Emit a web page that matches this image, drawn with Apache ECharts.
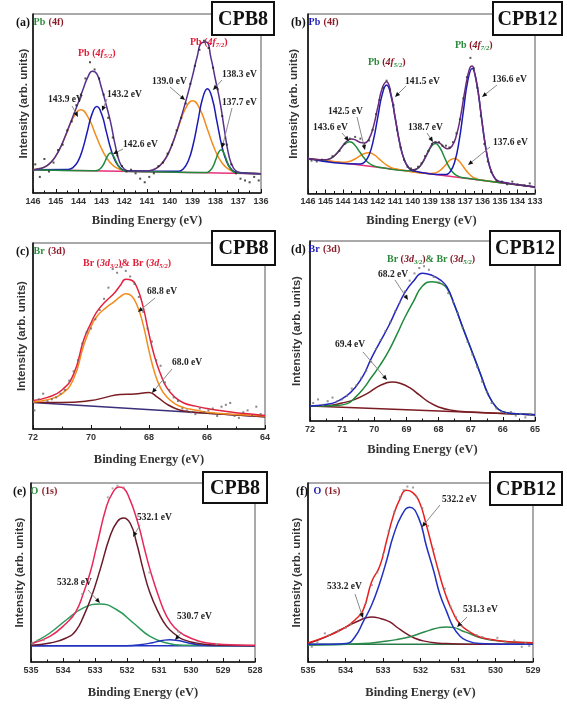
<!DOCTYPE html>
<html><head><meta charset="utf-8">
<script src="https://cdn.jsdelivr.net/npm/echarts@6/dist/echarts.min.js"></script>
<style>html,body{margin:0;padding:0;background:#fff}#c{width:567px;height:706px}</style>
</head><body><div id="c"></div>
<script>
// ---------- DATA (x = binding energy in eV, y = intensity in arb. units 0..100) ----------
// (a) CPB8 Pb 4f
const aBase = [[146,13.0],[136,10.8]];
const aOrange = [[146,13.0],[145.85,13.4],[145.525,14.3],[145.2,17.3],[144.875,23.4],[144.55,32.7],[144.225,42.2],[143.9,46.5],[143.575,42.1],[143.25,32.4],[142.925,23.0],[142.6,16.8],[142.275,13.6],[141.95,12.5],[140.95,12.3],[140.625,13.6],[140.3,17.2],[139.975,24.7],[139.65,35.9],[139.325,46.8],[139.0,51.5],[138.675,46.7],[138.35,35.6],[138.025,24.3],[137.7,16.6],[137.375,12.9],[137.05,11.4],[136,10.8]];
const aBlue = [[146,13.0],[144.46,13.1],[144.25,14.2],[144.04,17.4],[143.83,24.2],[143.62,34.2],[143.41,44.2],[143.2,48.3],[142.99,44.1],[142.78,34.0],[142.57,23.9],[142.36,17.1],[142.15,13.7],[141.94,12.5],[139.61,12.1],[139.4,13.6],[139.19,17.9],[138.98,26.8],[138.77,39.9],[138.56,52.9],[138.35,58.3],[138.14,52.8],[137.93,39.7],[137.72,26.5],[137.51,17.6],[137.3,13.2],[137.09,11.6],[136,10.8]];
const aGreen = [[146,13.0],[143.26,12.4],[143.15,12.7],[143.04,13.7],[142.93,15.5],[142.82,18.3],[142.71,21.1],[142.6,22.3],[142.49,21.0],[142.38,18.3],[142.27,15.4],[142.16,13.6],[142.05,12.6],[141.94,12.2],[138.41,11.4],[138.3,11.9],[138.19,13.1],[138.08,15.5],[137.97,19.1],[137.86,22.7],[137.75,24.2],[137.64,22.6],[137.53,19.0],[137.42,15.3],[137.31,13.0],[137.2,11.7],[137.09,11.2],[136,10.8]];
const aEnv = [[146,13.0],[145.8,13.4],[145.6,14.0],[145.4,15.2],[145.2,17.3],[145.0,20.7],[144.8,25.4],[144.6,31.3],[144.4,37.8],[144.2,44.4],[144.0,51.0],[143.8,58.1],[143.6,64.6],[143.4,68.0],[143.2,66.5],[143.0,58.9],[142.8,49.7],[142.6,39.7],[142.4,27.0],[142.2,17.2],[142.0,13.4],[141.8,12.3],[141.0,12.3],[140.8,12.7],[140.6,13.7],[140.4,15.8],[140.2,19.0],[140.0,23.9],[139.8,30.5],[139.6,38.3],[139.4,46.7],[139.2,55.8],[139.0,65.6],[138.8,76.1],[138.6,83.9],[138.4,84.3],[138.2,75.8],[138.0,63.4],[137.8,51.1],[137.6,34.9],[137.4,20.4],[137.2,13.7],[137.0,11.7],[136.8,11.0],[136,10.8]];
const aDots = [[145.9,16],[145.7,9],[145.5,19],[145.3,12],[145.1,17],[144.9,24],[144.7,27],[144.5,35],[144.3,40],[144.1,49],[143.9,55],[143.7,64],[143.5,73],[143.3,69],[143.1,64],[142.9,55],[142.7,42],[142.5,31],[142.3,21],[142.1,15],[141.9,12],[141.7,13],[141.5,11],[141.3,8],[141.1,6],[140.9,9],[140.7,11],[140.5,15],[140.3,17],[140.1,22],[139.9,27],[139.7,35],[139.5,42],[139.3,50],[139.1,61],[138.9,71],[138.7,80],[138.5,85],[138.3,81],[138.1,70],[137.9,58],[137.7,43],[137.5,27],[137.3,16],[137.1,11],[136.9,8],[136.7,7],[136.5,6],[136.3,9],[136.1,7]];

// (b) CPB12 Pb 4f
const bBase = [[146,17.7],[133,1.5]];
const bBlue = [[146,17.7],[143.0,14.5],[142.75,15.7],[142.5,19.7],[142.25,28.4],[142.0,41.4],[141.75,54.2],[141.5,59.5],[141.25,53.6],[141.0,40.2],[140.75,26.6],[140.5,17.3],[140.25,12.6],[140.0,10.7],[138.1,8.6],[137.85,10.3],[137.6,15.7],[137.35,27.4],[137.1,44.8],[136.85,61.9],[136.6,69.0],[136.35,61.3],[136.1,43.6],[135.85,25.6],[135.6,13.2],[135.35,7.2],[135.1,4.8],[133,1.5]];
const bGreen = [[146,17.7],[145.25,16.9],[144.975,16.9],[144.7,17.8],[144.425,19.8],[144.15,23.0],[143.875,26.1],[143.6,27.2],[143.325,25.4],[143.05,21.6],[142.775,17.8],[142.5,15.0],[142.225,13.5],[141.95,12.75],[140.2,10.65],[139.95,10.9],[139.7,12.2],[139.45,15.2],[139.2,19.9],[138.95,24.4],[138.7,26.2],[138.45,23.8],[138.2,18.7],[137.95,13.4],[137.7,9.75],[137.45,7.85],[137.2,6.9],[133,1.5]];
const bOrange = [[146,17.7],[144.3,15.7],[144.0,15.5],[143.7,15.8],[143.4,16.95],[143.1,18.7],[142.8,20.4],[142.5,20.9],[142.2,19.7],[141.9,17.2],[141.6,14.7],[141.3,12.8],[141.0,11.8],[140.7,11.2],[139.1,9.2],[138.85,9.3],[138.6,9.9],[138.35,11.6],[138.1,14.25],[137.85,16.84],[137.6,17.7],[137.35,16.2],[137.1,13.0],[136.85,9.7],[136.6,7.4],[136.35,6.2],[136.1,5.46],[133,1.5]];
const bEnv = [[146,17.7],[145.5,17.1],[145.0,16.95],[144.75,17.5],[144.5,19.1],[144.25,21.8],[144.0,25.1],[143.75,27.8],[143.5,28.8],[143.25,28.1],[143.0,26.8],[142.75,26.55],[142.5,29.0],[142.25,36.0],[142.0,47.0],[141.75,57.7],[141.5,61.4],[141.25,54.5],[141.0,40.5],[140.75,26.7],[140.5,17.25],[140.25,12.7],[140.0,11.3],[139.75,11.9],[139.5,14.5],[139.25,18.9],[139.0,23.9],[138.75,26.9],[138.5,26.65],[138.25,24.5],[138.0,23.2],[137.75,24.8],[137.5,30.9],[137.25,42.35],[137.0,57.25],[136.75,68.8],[136.6,70.4],[136.5,68.4],[136.25,55.1],[136.0,36.0],[135.75,19.8],[135.5,10.2],[135.25,5.9],[135.0,4.4],[134.5,3.4],[133,1.5]];
const bDots = [[145.8,16.5],[145.5,16.0],[145.2,17.0],[144.6,19],[144.2,22],[143.9,26],[143.6,29],[143.3,30],[143.0,29],[142.8,26],[142.5,28],[142.3,34],[142.1,43],[141.9,51],[141.7,58],[141.5,62],[141.3,57],[141.1,48],[140.9,34],[140.7,24],[140.5,17],[140.3,13],[140.1,12],[139.9,11],[139.7,13],[139.5,15],[139.3,19],[139.1,22],[138.9,26],[138.7,27],[138.5,27],[138.3,25],[138.1,25],[137.9,24],[137.7,27],[137.5,32],[137.3,40],[137.1,52],[136.9,64],[136.7,75],[136.5,69],[136.3,58],[136.1,42],[135.9,26],[135.7,16],[135.5,10],[135.2,5],[134.9,4.5],[134.6,3],[134.3,4.5],[134.0,3],[133.6,2.5],[133.3,3.5]];

// (c) CPB8 Br 3d
const cBase = [[72,14.2],[64,6.6]];
const cBrown = [[72,14.4],[71.0,14.2],[70.0,15.3],[69.5,17.0],[69.0,18.6],[68.5,18.8],[68.0,19.6],[67.7,17.0],[67.4,13.5],[67.0,10.5],[66.6,9.3],[66.0,8.5],[64,6.6]];
const cOrange = [[72,14.5],[71.5,15.8],[71.0,19],[70.6,27],[70.25,45],[70.0,55],[69.8,60.5],[69.5,65],[69.2,68.5],[69.0,71],[68.8,72.7],[68.6,71.5],[68.4,66],[68.2,56],[68.0,42],[67.8,30],[67.6,22],[67.4,17.5],[67.1,13.5],[66.8,11.5],[66.4,10.2],[66.0,9.0],[65.0,7.8],[64,7.0]];
const cRed = [[72,15.3],[71.5,17.0],[71.0,21],[70.6,29.5],[70.25,48],[70.0,57],[69.8,63],[69.5,68.5],[69.2,73],[69.0,77],[68.8,80.5],[68.6,80],[68.4,75.5],[68.2,65.5],[68.0,51],[67.8,38.5],[67.6,29.5],[67.4,22.5],[67.1,17],[66.8,14],[66.4,12.3],[66.0,11],[65.5,9.8],[65.0,8.8],[64.5,8.0],[64,7.2]];
const cDots = [[71.95,10],[71.8,16],[71.65,19],[71.5,15],[71.35,16],[71.2,17],[71.05,19],[70.9,21],[70.75,26],[70.6,31],[70.45,37],[70.3,46],[70.15,52],[70.0,54],[69.85,59],[69.7,64],[69.55,70],[69.4,76],[69.25,86],[69.1,84],[68.95,87],[68.8,85],[68.65,82],[68.5,78],[68.35,71],[68.2,63],[68.05,54],[67.9,47],[67.75,37],[67.6,34],[67.45,25],[67.3,21],[67.15,17],[67.0,15],[66.85,11],[66.7,10],[66.55,9],[66.4,8],[66.25,11],[66.1,9],[65.95,10],[65.8,11],[65.65,7],[65.5,12],[65.35,13],[65.2,14],[65.05,7],[64.9,6],[64.75,9],[64.6,10],[64.45,7],[64.3,12],[64.15,8]];

// (d) CPB12 Br 3d
const dBase = [[72,8.3],[65,3.5]];
const dBrown = [[72,8.3],[71.5,8.5],[71.0,10],[70.6,12],[70.2,15.5],[69.9,19],[69.65,21],[69.45,21.7],[69.2,21],[68.9,18.5],[68.6,14.5],[68.3,10.5],[68.0,7.8],[67.6,6.0],[67.0,5],[66,4.2],[65,3.5]];
const dGreen = [[72,8.3],[71.2,8.6],[70.86,9.5],[70.6,13],[70.34,18],[70.1,24],[69.82,31],[69.55,39],[69.3,48],[69.05,57.5],[68.78,66.5],[68.5,75],[68.2,77.4],[67.95,76.5],[67.74,73.7],[67.5,64],[67.22,50.5],[66.95,38],[66.7,26.3],[66.45,14.5],[66.2,7.5],[66.0,5.2],[65.7,4.2],[65,3.5]];
const dEnv = [[72,8.3],[71.5,9.2],[71.2,10.5],[70.86,14],[70.6,18.5],[70.34,25.3],[70.1,34.5],[69.82,44],[69.55,52.9],[69.3,62.4],[69.05,71.3],[68.78,77.7],[68.5,82.1],[68.2,80.9],[67.95,78.4],[67.74,74.5],[67.5,64.3],[67.22,50.7],[66.95,38.1],[66.7,26.3],[66.45,14.5],[66.2,7.5],[66.0,5.2],[65.7,4.2],[65,3.5]];
const dDots = [[71.9,10],[71.75,12],[71.6,9],[71.45,11],[71.3,13],[71.15,11],[71.0,12],[70.85,14],[70.7,18],[70.55,20],[70.4,24],[70.25,28],[70.1,33],[69.95,40],[69.8,45],[69.65,50],[69.5,55],[69.35,61],[69.2,66],[69.05,72],[68.9,78],[68.75,82],[68.6,85],[68.45,86],[68.3,84],[68.15,80],[68.0,77],[67.85,76],[67.7,71],[67.55,66],[67.4,60],[67.25,52],[67.1,44],[66.95,37],[66.8,30],[66.65,22],[66.5,16],[66.35,10],[66.2,7],[66.05,5],[65.9,4],[65.75,5],[65.6,3],[65.45,4],[65.3,2],[65.15,4]];

// (e) CPB8 O 1s
const eBase = [[535,9.1],[528,9.1]];
const eBrown = [[535,9.3],[534.4,10.6],[533.9,13.4],[533.6,17.5],[533.36,25.5],[533.1,37],[532.84,51.6],[532.53,70.2],[532.3,78.5],[532.11,80.4],[531.9,77.5],[531.7,66.5],[531.5,52],[531.28,38.5],[531.0,27],[530.76,19.9],[530.5,15.5],[530.24,12.5],[529.72,10.2],[529.0,9.3],[528,9.1]];
const eGreen = [[535,10.2],[534.93,10.6],[534.41,16.2],[533.89,23.6],[533.36,30.2],[532.84,32.4],[532.32,29.2],[531.8,21.8],[531.28,14.3],[530.76,10.6],[530.24,9.3],[529,9.1],[528,9.1]];
const eBlue = [[535,9.1],[532,9.1],[531.6,9.6],[531.2,10.8],[530.9,12.0],[530.66,12.5],[530.4,12.0],[530.1,10.8],[529.8,9.7],[529.4,9.2],[528,9.1]];
const eRed = [[535,10.2],[534.41,14.3],[533.89,21.8],[533.6,28],[533.36,38.5],[533.15,50],[532.95,64.6],[532.64,87],[532.45,94.5],[532.25,97.8],[532.1,97],[531.91,90.7],[531.75,83],[531.6,73.9],[531.45,63],[531.28,51.6],[531.0,36],[530.76,25.5],[530.5,19],[530.24,15.3],[529.72,11.5],[529.2,10.1],[528.6,9.5],[528,9.3]];
const eDots = [[534.95,10.8],[534.8,12],[534.6,12.2],[533.4,38],[532.6,92],[532.45,97],[532.3,98.5],[532.1,97.5],[531.3,50],[530.4,17],[529.8,11],[529.2,10]];

// (f) CPB12 O 1s
const fBase = [[535,9.9],[529,9.9]];
const fBlue = [[535,9.9],[534.4,9.9],[533.98,10.3],[533.75,14],[533.53,22.4],[533.3,32],[533.09,43.9],[532.9,57],[532.73,70.1],[532.5,82],[532.29,86.5],[532.05,80.5],[531.84,64.5],[531.65,51],[531.49,38.3],[531.3,28],[531.13,19.6],[530.95,14.5],[530.78,12.1],[530.42,10.3],[529.8,9.9],[529,9.9]];
const fBrown = [[535,10.3],[534.7,12.5],[534.42,15],[533.98,19.6],[533.6,23.5],[533.31,25.2],[533.05,24.2],[532.82,22.4],[532.6,19],[532.38,15.9],[532.15,13.3],[531.93,11.8],[531.5,10.5],[531.31,10.3],[530.5,9.9],[529,9.9]];
const fGreen = [[535,9.3],[533.53,10.3],[533.0,11.5],[532.64,12.5],[532.3,14],[532.02,15.9],[531.75,17.8],[531.5,19.2],[531.31,19.6],[531.1,19.2],[530.9,17.5],[530.69,15.9],[530.4,13.5],[530.07,12.1],[529.6,11.2],[529,10.7]];
const fRed = [[535,10.7],[534.42,15],[533.98,19.6],[533.75,23.5],[533.53,29],[533.3,45],[533.09,53.3],[532.9,68],[532.73,81.3],[532.55,91],[532.38,95.9],[532.2,94.5],[532.02,88.8],[531.85,77],[531.67,62.6],[531.49,48.5],[531.31,36.4],[531.13,27.5],[530.96,21.5],[530.7,17],[530.42,14],[530.0,12.2],[529.53,11.2],[529,10.7]];
const fDots = [[534.9,8.5],[534.75,11],[534.55,16],[534.45,15],[534.2,17.5],[534.0,19],[533.85,21],[533.6,26],[533.45,33],[533.3,43],[533.15,50],[533.0,60],[532.85,73],[532.7,84],[532.55,92],[532.45,96],[532.35,98],[532.2,97.5],[532.1,92],[531.95,86],[531.8,76],[531.65,63],[531.5,50],[531.35,41],[531.2,31],[531.05,25],[530.9,20],[530.7,17],[530.5,15],[530.35,14],[530.15,12.5],[529.95,13.5],[529.75,11.5],[529.5,12],[529.3,8.5],[529.2,10.5],[529.1,9]];

// axis ranges
const xRanges = [[136,146,1],[133,146,1],[64,72,2],[65,72,1],[528,535,1],[529,535,1]];
const sampleNames = ['CPB8','CPB12','CPB8','CPB12','CPB8','CPB12'];
const xTitle = 'Binding Energy (eV)';
const yTitle = 'Intensity (arb. units)';

// ---------- CHART ----------
const chart = echarts.init(document.getElementById('c'), null, {renderer:'canvas'});
const grids = [
  {left:33, top:14, width:228, height:179},
  {left:308, top:14, width:227, height:179.5},
  {left:33, top:243, width:232, height:186},
  {left:310, top:241, width:225, height:180},
  {left:31, top:483, width:224, height:179},
  {left:308, top:483, width:225, height:179}
].map(g => Object.assign({show:true, borderColor:'#555', borderWidth:1, containLabel:false, outerBoundsMode:'none'}, g));

const yMins = [0,-2.25,0,0,0,0];
const yGaps = [3,8,5,7,5,5];
const xGaps = [21,21,24,22,24,24];
const xAxes = xRanges.map((r,i)=>({
  gridIndex:i, type:'value', inverse:true, min:r[0], max:r[1], interval:r[2],
  axisLine:{show:true, onZero:false, lineStyle:{color:'#111', width:1.6}},
  axisTick:{show:true, inside:true, length:4, lineStyle:{color:'#111', width:1}},
  minorTick:{show:true, splitNumber:2, length:2.5, lineStyle:{color:'#111', width:1}},
  splitLine:{show:false},
  axisLabel:{color:'#333', fontSize:9, fontWeight:'bold', fontFamily:'Liberation Sans', margin:4},
  name:xTitle, nameLocation:'middle', nameGap:xGaps[i],
  nameTextStyle:{color:'#333', fontSize:12.5, fontWeight:'bold', fontFamily:'Liberation Serif'}
}));
const yAxes = xRanges.map((r,i)=>({
  gridIndex:i, type:'value', min:yMins[i], max:100,
  axisLine:{show:true, onZero:false, lineStyle:{color:'#111', width:1.6}},
  axisTick:{show:false}, axisLabel:{show:false}, splitLine:{show:false},
  name:yTitle, nameLocation:'middle', nameGap:yGaps[i],
  nameTextStyle:{color:'#333', fontSize:11.5, fontWeight:'bold', fontFamily:'Liberation Sans'}
}));

function ln(i, data, color, w){
  return {type:'line', xAxisIndex:i, yAxisIndex:i, data, showSymbol:false, smooth:0.5,
    lineStyle:{color, width:w||1.5}, itemStyle:{color}, silent:true, z:2};
}
function dots(i, data, color){
  return {type:'scatter', xAxisIndex:i, yAxisIndex:i, data, symbol:'rect', symbolSize:2, itemStyle:{color:color||'#333'}, silent:true, z:3};
}
const ORANGE='#f28c1c', BLUE='#1c1ab4', GREEN='#1f8a3b', PURPLE='#55308c', PINK='#e8307a', RED='#e3203f', BROWN='#7a1c22', NAVY='#3b2e7a';
const series = [
  ln(0,aBase,PINK), ln(0,aOrange,ORANGE), ln(0,aBlue,BLUE), ln(0,aGreen,GREEN), ln(0,aEnv,PURPLE), dots(0,aDots,'#222'),
  ln(1,bBase,PINK), ln(1,bOrange,ORANGE), ln(1,bGreen,GREEN), ln(1,bBlue,BLUE), ln(1,bEnv,'#6a2c7c'), dots(1,bDots,'#333'),
  ln(2,cBase,NAVY), ln(2,cBrown,BROWN), ln(2,cOrange,ORANGE), ln(2,cRed,RED), dots(2,cDots,'#666'),
  ln(3,dBase,BROWN), ln(3,dBrown,BROWN), ln(3,dGreen,GREEN), ln(3,dEnv,'#2424c0'), dots(3,dDots,'#777'),
  ln(4,eBase,'#2233c0'), ln(4,eGreen,'#2a9a5a'), ln(4,eBlue,'#2233c0'), ln(4,eBrown,'#6a1a2a'), ln(4,eRed,'#e8285a'), dots(4,eDots,'#999'),
  ln(5,fBase,'#2a7a4a'), ln(5,fBrown,'#7a1a2a'), ln(5,fGreen,'#2a8a4a'), ln(5,fBlue,'#2030c0'), ln(5,fRed,'#e82020'), dots(5,fDots,'#888')
];

// ---------- ANNOTATIONS ----------
const g = [];
const SERIF = '"Liberation Serif"';
function txt(x,y,t,extra){ g.push(Object.assign({type:'text', x, y, z:10, style:Object.assign({text:t, font:'bold 9.5px '+SERIF, fill:'#222', textVerticalAlign:'middle'}, extra||{})})); }
function arrow(x1,y1,x2,y2){
  const a=Math.atan2(y2-y1,x2-x1), L=5, W=2.2, c=Math.cos(a), s=Math.sin(a);
  g.push({type:'line', z:10, shape:{x1,y1,x2:x2-c*3,y2:y2-s*3}, style:{stroke:'#8a8a8a', lineWidth:1}});
  g.push({type:'polygon', z:11, shape:{points:[[x2,y2],[x2-L*c+W*s,y2-L*s-W*c],[x2-L*c-W*s,y2-L*s+W*c]]}, style:{fill:'#111'}});
}
function box(x,y,w,h,t){
  g.push({type:'rect', z:20, shape:{x,y,width:w,height:h}, style:{fill:'#fff', stroke:'#111', lineWidth:2}});
  g.push({type:'text', z:21, x:x+w/2, y:y+h/2+1, style:{text:t, font:'bold 20px '+SERIF, fill:'#111', textAlign:'center', textVerticalAlign:'middle'}});
}
function rich(x,y,text,r){ g.push({type:'text', x, y, z:10, style:{text, rich:r, textVerticalAlign:'middle'}}); }
function rs(col){ return {fill:col, font:'bold 10px '+SERIF, lineHeight:14, verticalAlign:'middle'}; }
function ri(col){ return {fill:col, font:'italic bold 10px '+SERIF, lineHeight:14, verticalAlign:'middle'}; }
function rsub(col){ return {fill:col, font:'italic bold 6.5px '+SERIF, lineHeight:14, verticalAlign:'bottom', padding:[5,0,0,0]}; }

// boxes
box(212,2,62,33,sampleNames[0]); box(493,2,69,33,sampleNames[1]);
box(212,231,63,34,sampleNames[2]); box(490,231,70,34,sampleNames[3]);
box(203,472,64,31,sampleNames[4]); box(490,472,72,33,sampleNames[5]);

// panel letters + element headers
const MAROON='#8a1c2a', HG='#2a8a3a', HB='#1c1ab4';
const hdr = (x,y,letter,el,orb,col) => {
  txt(x,y,letter,{font:'bold 12px '+SERIF, fill:'#111'});
  rich(x+(letter.length*4.2)+5,y-1,'{e|'+el+'} {o|'+orb+'}',{e:rs(col), o:rs(MAROON)});
};
hdr(16,23,'(a)','Pb','(4f)',HG);
hdr(291,23,'(b)','Pb','(4f)',HB);
hdr(16,252,'(c)','Br','(3d)',HG);
hdr(291,250,'(d)','Br','(3d)',HB);
hdr(13,492,'(e)','O','(1s)',HG);
hdr(296,492,'(f)','O','(1s)',HB);

// peak group labels
const R='#e0203a';
rich(78,53,'{a|Pb (}{i|4f}{s|5/2}{a|)}',{a:rs(R),i:ri(R),s:rsub(R)});
rich(190,42,'{a|Pb (}{i|4f}{s|7/2}{a|)}',{a:rs(R),i:ri(R),s:rsub(R)});
rich(368,62,'{a|Pb }{m|(}{i|4f}{s|5/2}{m|)}',{a:rs(HG),m:rs(MAROON),i:ri(MAROON),s:rsub(HG)});
rich(455,45,'{a|Pb }{m|(}{i|4f}{s|7/2}{m|)}',{a:rs(HG),m:rs(MAROON),i:ri(MAROON),s:rsub(HG)});
rich(83,263,'{a|Br (}{i|3d}{s|3/2}{a|)& Br (}{i|3d}{s|5/2}{a|)}',{a:rs(R),i:ri(R),s:rsub(R)});
rich(387,259,'{a|Br }{m|(}{i|3d}{s|3/2}{m|)}{a|& Br }{m|(}{i|3d}{s|5/2}{m|)}',{a:rs(HG),m:rs(MAROON),i:ri(MAROON),s:rsub(HG)});

// peak position labels and arrows
txt(48,100,'143.9 eV'); arrow(72,106,78,117);
txt(107,95,'143.2 eV'); arrow(107,99,102,111);
txt(123,145,'142.6 eV'); arrow(123,149,113,154);
txt(152,82,'139.0 eV'); arrow(170,87,185,100);
txt(222,75,'138.3 eV'); arrow(222,80,213,90);
txt(222,103,'137.7 eV'); arrow(232,108,222,148);

txt(405,82,'141.5 eV'); arrow(406,86,395,97);
txt(492,80,'136.6 eV'); arrow(497,85,482,97);
txt(328,112,'142.5 eV'); arrow(357,117,365,150);
txt(313,128,'143.6 eV'); arrow(342,133,349,141);
txt(408,128,'138.7 eV'); arrow(427,133,433,142);
txt(493,143,'137.6 eV'); arrow(490,147,468,165);

txt(147,292,'68.8 eV'); arrow(155,298,138,312);
txt(172,363,'68.0 eV'); arrow(172,369,152,393);

txt(378,275,'68.2 eV'); arrow(395,280,408,300);
txt(335,345,'69.4 eV'); arrow(363,352,387,380);

txt(137,518,'532.1 eV'); arrow(140,525,133,537);
txt(57,583,'532.8 eV'); arrow(88,590,100,603);
txt(177,617,'530.7 eV'); arrow(182,632,175,640);

txt(442,500,'532.2 eV'); arrow(440,505,422,527);
txt(327,587,'533.2 eV'); arrow(355,594,363,618);
txt(463,610,'531.3 eV'); arrow(467,617,457,627);

chart.setOption({
  animation:false, backgroundColor:'#fff',
  grid:grids, xAxis:xAxes, yAxis:yAxes, series, graphic:{elements:g}
});
</script></body></html>
